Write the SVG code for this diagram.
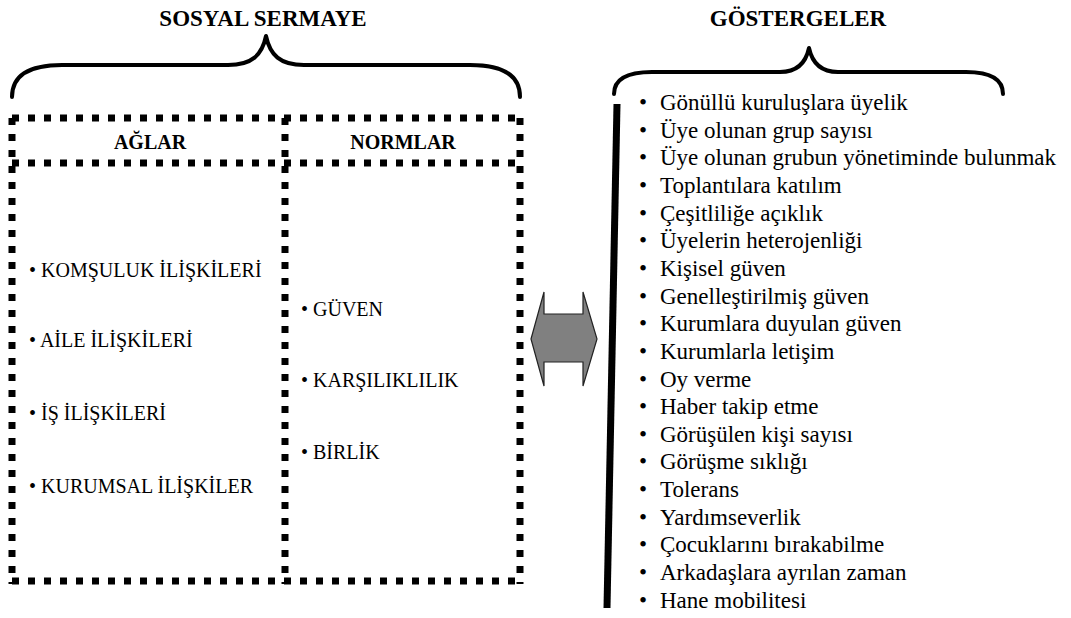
<svg xmlns="http://www.w3.org/2000/svg" width="1071" height="618" viewBox="0 0 1071 618">
<style>
.title{font-size:23px;font-weight:bold;text-anchor:middle}
.hdr{font-size:20px;font-weight:bold;text-anchor:middle}
.li{font-size:20px}
.dash{stroke:#000;stroke-width:7;stroke-dasharray:7 9;fill:none}
.brace{stroke:#000;stroke-width:4;fill:none;stroke-linecap:round;stroke-linejoin:round}
</style>
<rect width="1071" height="618" fill="#fff"/>
<g font-family="'Liberation Serif', serif" fill="#000">
<g id="sosyal-sermaye">
<text class="title" x="263" y="26">SOSYAL SERMAYE</text>
<path class="brace" d="M12,97 C12,76 28,65 62,65 L228,65 C252,65 262,55 266,36 C270,55 280,65 304,65 L470,65 C504,65 520,76 520,97"/>
</g>
<g id="table">
<line class="dash" x1="12" y1="118" x2="520" y2="118"/>
<line class="dash" x1="12" y1="163" x2="520" y2="163"/>
<line class="dash" x1="12" y1="581" x2="520" y2="581"/>
<line class="dash" x1="12" y1="118" x2="12" y2="584"/>
<line class="dash" x1="285" y1="118" x2="285" y2="584"/>
<line class="dash" x1="520" y1="118" x2="520" y2="584"/>
</g>
<g id="aglar">
<text class="hdr" x="150" y="149">AĞLAR</text>
<text class="li" x="29" y="277">• KOMŞULUK İLİŞKİLERİ</text>
<text class="li" x="29" y="347">• AİLE İLİŞKİLERİ</text>
<text class="li" x="29" y="420">• İŞ İLİŞKİLERİ</text>
<text class="li" x="29" y="493">• KURUMSAL İLİŞKİLER</text>
</g>
<g id="normlar">
<text class="hdr" x="403" y="149">NORMLAR</text>
<text class="li" x="301" y="316">• GÜVEN</text>
<text class="li" x="301" y="387">• KARŞILIKLILIK</text>
<text class="li" x="301" y="459">• BİRLİK</text>
</g>
<g id="connectors">
<polygon points="531,339 544,292 544,314 583,314 583,292 597,339 583,386 583,362 544,362 544,386" fill="#808080" stroke="#222" stroke-width="1.2" stroke-linejoin="miter"/>
</g>
<g id="gostergeler">
<text class="title" x="798" y="26">GÖSTERGELER</text>
<path class="brace" d="M614,94 C614,80 626,72 652,72 L780,72 C798,72 806,62 809,48 C812,62 820,72 838,72 L966,72 C992,72 1003,80 1003,94"/>
<line x1="617" y1="104" x2="607" y2="608" stroke="#000" stroke-width="7"/>
<g font-size="23">
<text x="639" y="110">•</text><text x="660" y="110">Gönüllü kuruluşlara üyelik</text>
<text x="639" y="137.65">•</text><text x="660" y="137.65">Üye olunan grup sayısı</text>
<text x="639" y="165.3">•</text><text x="660" y="165.3">Üye olunan grubun yönetiminde bulunmak</text>
<text x="639" y="192.95">•</text><text x="660" y="192.95">Toplantılara katılım</text>
<text x="639" y="220.6">•</text><text x="660" y="220.6">Çeşitliliğe açıklık</text>
<text x="639" y="248.25">•</text><text x="660" y="248.25">Üyelerin heterojenliği</text>
<text x="639" y="275.9">•</text><text x="660" y="275.9">Kişisel güven</text>
<text x="639" y="303.55">•</text><text x="660" y="303.55">Genelleştirilmiş güven</text>
<text x="639" y="331.2">•</text><text x="660" y="331.2">Kurumlara duyulan güven</text>
<text x="639" y="358.85">•</text><text x="660" y="358.85">Kurumlarla letişim</text>
<text x="639" y="386.5">•</text><text x="660" y="386.5">Oy verme</text>
<text x="639" y="414.15">•</text><text x="660" y="414.15">Haber takip etme</text>
<text x="639" y="441.8">•</text><text x="660" y="441.8">Görüşülen kişi sayısı</text>
<text x="639" y="469.45">•</text><text x="660" y="469.45">Görüşme sıklığı</text>
<text x="639" y="497.1">•</text><text x="660" y="497.1">Tolerans</text>
<text x="639" y="524.75">•</text><text x="660" y="524.75">Yardımseverlik</text>
<text x="639" y="552.4">•</text><text x="660" y="552.4">Çocuklarını bırakabilme</text>
<text x="639" y="580.05">•</text><text x="660" y="580.05">Arkadaşlara ayrılan zaman</text>
<text x="639" y="607.7">•</text><text x="660" y="607.7">Hane mobilitesi</text>
</g>
</g>
</g>
</svg>
